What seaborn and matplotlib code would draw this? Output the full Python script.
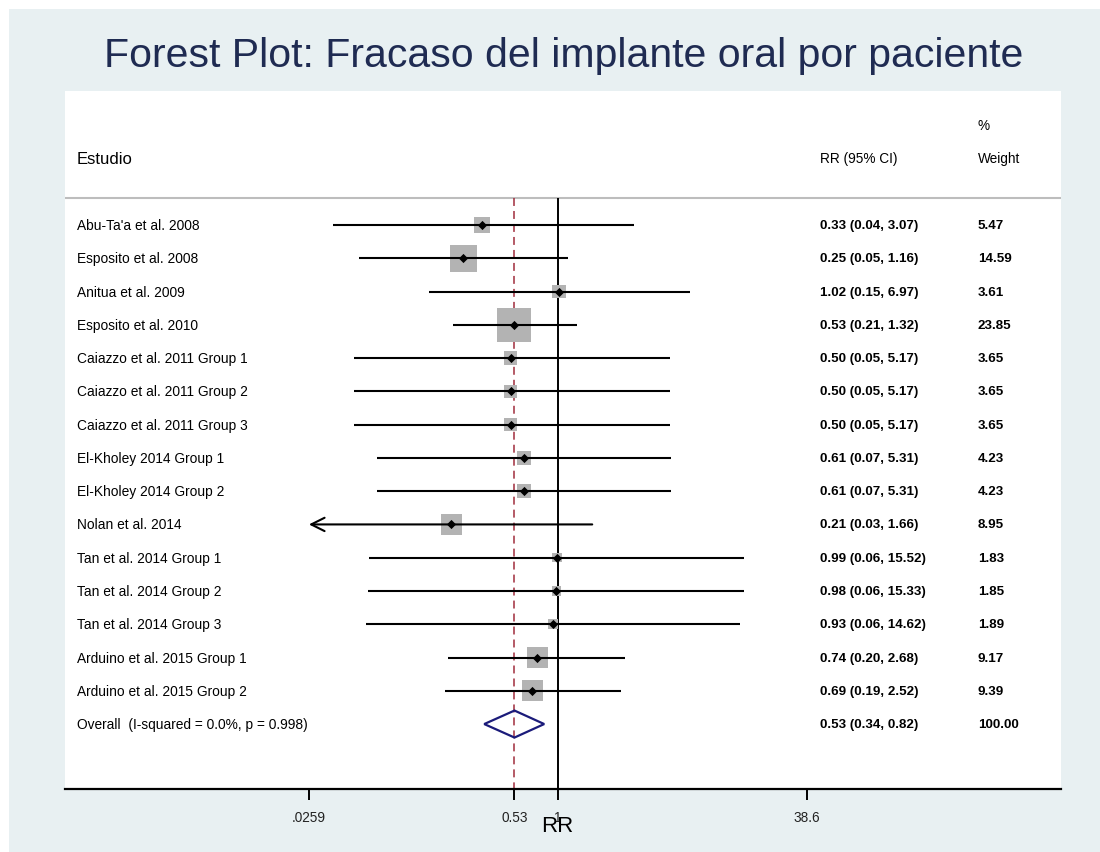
import numpy as np
import pandas as pd
import matplotlib
matplotlib.use("Agg")
import matplotlib.pyplot as plt
import matplotlib.transforms as mtransforms
from matplotlib.patches import Rectangle, Polygon
import seaborn as sns

# ---------------- data ----------------
studies = ["Abu-Ta'a et al. 2008", "Esposito et al. 2008", "Anitua et al. 2009",
           "Esposito et al. 2010", "Caiazzo et al. 2011 Group 1", "Caiazzo et al. 2011 Group 2",
           "Caiazzo et al. 2011 Group 3", "El-Kholey 2014 Group 1", "El-Kholey 2014 Group 2",
           "Nolan et al. 2014", "Tan et al. 2014 Group 1", "Tan et al. 2014 Group 2",
           "Tan et al. 2014 Group 3", "Arduino et al. 2015 Group 1", "Arduino et al. 2015 Group 2"]
rr = [0.33, 0.25, 1.02, 0.53, 0.50, 0.50, 0.50, 0.61, 0.61, 0.21, 0.99, 0.98, 0.93, 0.74, 0.69]
ci_lo = [0.037, 0.054, 0.15, 0.214, 0.05, 0.05, 0.05, 0.07, 0.07, 0.0259, 0.063, 0.062, 0.06, 0.20, 0.19]
ci_hi = [3.07, 1.16, 6.97, 1.32, 5.17, 5.17, 5.17, 5.31, 5.31, 1.66, 15.52, 15.33, 14.62, 2.68, 2.52]
weights = [5.47, 14.59, 3.61, 23.85, 3.65, 3.65, 3.65, 4.23, 4.23, 8.95, 1.83, 1.85, 1.89, 9.17, 9.39]

overall_label = "Overall  (I-squared = 0.0%, p = 0.998)"
overall_rr = 0.53
overall_lo = 0.34
overall_hi = 0.82
overall_weight = 100.00

tick_values = [0.0259, 0.53, 1, 38.6]
tick_labels = [".0259", "0.53", "1", "38.6"]

title = "Forest Plot: Fracaso del implante oral por paciente"
col_study = "Estudio"
col_rr = "RR (95% CI)"
col_w_top = "%"
col_w = "Weight"
xlabel = "RR"

df = pd.DataFrame({"study": studies, "rr": rr, "lo": ci_lo, "hi": ci_hi, "w": weights})
df["row"] = np.arange(len(df))
overall_row = len(df)

# ---------------- style ----------------
plt.rcParams["font.family"] = ["Liberation Sans", "DejaVu Sans"]

W, H = 1100, 853
fig = plt.figure(figsize=(W / 100, H / 100), dpi=100, facecolor="white")
fig.patches.append(Rectangle((9 / W, 0), 1 - 9 / W, (H - 10) / H, transform=fig.transFigure,
                             facecolor="#E8F0F2", edgecolor="none", zorder=0))

px = 0.72  # points per pixel
ax_left, ax_right, ax_top, ax_bot = 65, 1061, 92, 790
ax = fig.add_axes([ax_left / W, (H - ax_bot) / H, (ax_right - ax_left) / W, (ax_bot - ax_top) / H])
ax.set_facecolor("white")
ax.set_zorder(1)

# row geometry (rows at pixel 226 + 33.27*i)
row_px0, row_step = 226, 33.27
def prow(p):
    return (p - row_px0) / row_step

ax.set_xscale("log")
ax.set_xlim(np.exp(-7.235), np.exp(7.39))
ax.set_ylim(prow(ax_bot), prow(ax_top))

header_y = prow(199)
bottom_y = prow(ax_bot)

# header separator
ax.axhline(header_y, color="#BDBDBD", lw=1.5, zorder=1)

# null line and overall line
ax.vlines(1, header_y, bottom_y, color="black", lw=1.4, zorder=2)
ax.plot([overall_rr, overall_rr], [header_y, bottom_y], color="#A02C3C", lw=1.1,
        linestyle=(0, (5.2, 3.3)), zorder=2)

clip_lo, clip_hi = tick_values[0], tick_values[-1]

# boxes (area proportional to weight)
sns.scatterplot(data=df, x="rr", y="row", size="w", sizes=(0, (34 * px) ** 2),
                size_norm=(0, max(weights)), marker="s", color="#B3B3B3",
                linewidth=0, legend=False, ax=ax, zorder=3)

# CI lines
for _, r in df.iterrows():
    if r["lo"] <= clip_lo:
        ax.annotate("", xy=(clip_lo, r["row"]), xytext=(min(r["hi"], clip_hi), r["row"]),
                    arrowprops=dict(arrowstyle="->", lw=1.5, color="black",
                                    mutation_scale=24, shrinkA=0, shrinkB=0),
                    zorder=4)
    else:
        ax.hlines(r["row"], r["lo"], min(r["hi"], clip_hi), color="black", lw=1.5, zorder=4)

# point estimates
sns.scatterplot(data=df, x="rr", y="row", marker="D", color="black", s=22,
                linewidth=0, legend=False, ax=ax, zorder=5)

# overall diamond
dh = 13.5 / row_step
diamond = Polygon([(overall_lo, overall_row), (overall_rr, overall_row - dh),
                   (overall_hi, overall_row), (overall_rr, overall_row + dh)],
                  closed=True, fill=False, edgecolor="#1B1B7A", lw=1.6, zorder=5)
ax.add_patch(diamond)

# text columns
trans = mtransforms.blended_transform_factory(ax.transAxes, ax.transData)
x_study = (77 - ax_left) / (ax_right - ax_left)
x_rr = (820 - ax_left) / (ax_right - ax_left)
x_w = (978 - ax_left) / (ax_right - ax_left)

ax.text(x_study, prow(159), col_study, transform=trans, fontsize=12, va="center", ha="left")
ax.text(x_rr, prow(159), col_rr, transform=trans, fontsize=9.8, va="center", ha="left")
ax.text(x_w, prow(159), col_w, transform=trans, fontsize=9.8, va="center", ha="left")
ax.text(x_w, prow(126), col_w_top, transform=trans, fontsize=9.8, va="center", ha="left")

for _, r in df.iterrows():
    ax.text(x_study, r["row"], r["study"], transform=trans, fontsize=9.9, va="center", ha="left")
    ax.text(x_rr, r["row"], f"{r['rr']:.2f} ({r['lo']:.2f}, {r['hi']:.2f})", transform=trans,
            fontsize=9.6, fontweight="bold", va="center", ha="left")
    ax.text(x_w, r["row"], f"{r['w']:.2f}", transform=trans,
            fontsize=9.6, fontweight="bold", va="center", ha="left")

ax.text(x_study, overall_row, overall_label, transform=trans, fontsize=9.9, va="center", ha="left")
ax.text(x_rr, overall_row, f"{overall_rr:.2f} ({overall_lo:.2f}, {overall_hi:.2f})",
        transform=trans, fontsize=9.6, fontweight="bold", va="center", ha="left")
ax.text(x_w, overall_row, f"{overall_weight:.2f}", transform=trans,
        fontsize=9.6, fontweight="bold", va="center", ha="left")

# axes styling
for s in ["top", "left", "right"]:
    ax.spines[s].set_visible(False)
ax.spines["bottom"].set_linewidth(1.6)
ax.spines["bottom"].set_color("black")
ax.set_yticks([])
ax.set_xticks(tick_values)
ax.set_xticklabels(tick_labels)
ax.xaxis.set_minor_locator(matplotlib.ticker.NullLocator())
ax.tick_params(axis="x", length=8, width=1.4, pad=7, labelsize=9.8, labelcolor="#222222")
ax.set_xlabel("")
ax.set_ylabel("")

ax.annotate(xlabel, xy=(1, 0), xycoords=("data", "axes fraction"), xytext=(0, -37 * px),
            textcoords="offset points", ha="center", va="center", fontsize=16,
            annotation_clip=False)

fig.text(564 / W, 1 - 56 / H, title, ha="center", va="center", fontsize=29.5, color="#1F2B52")

fig.savefig("out.png", dpi=100, facecolor="white")
